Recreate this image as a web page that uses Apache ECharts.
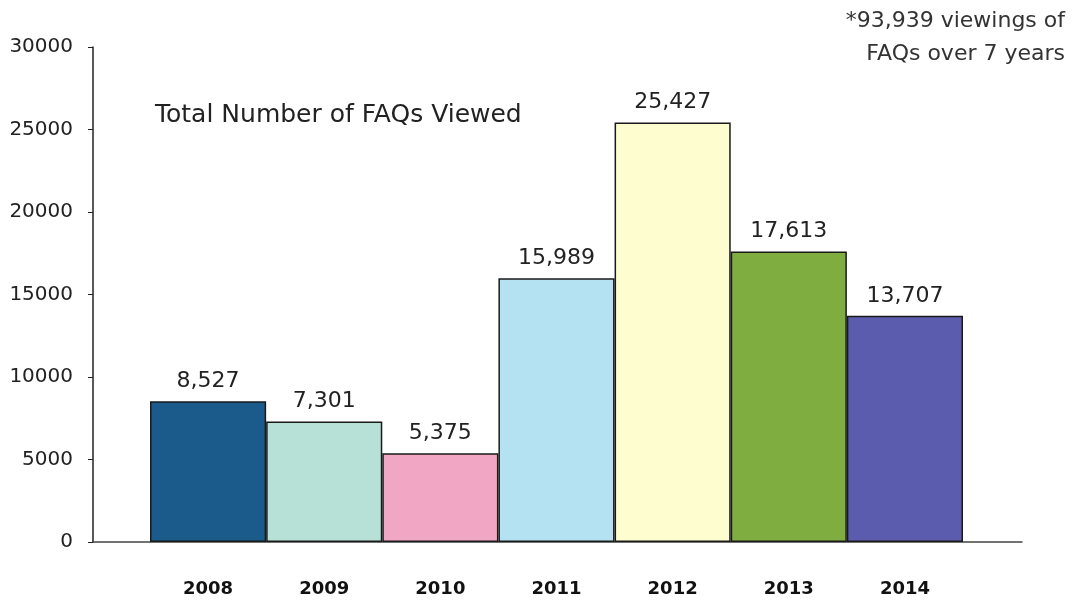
<!DOCTYPE html>
<html>
<head>
<meta charset="utf-8">
<script src="https://cdn.jsdelivr.net/npm/echarts@6/dist/echarts.min.js"></script>
<style>html,body{margin:0;padding:0;background:#fff}#c{width:1079px;height:605px}</style>
</head>
<body>
<div id="c"></div>
<script>
var years = ['2008','2009','2010','2011','2012','2013','2014'];
var views = [8527, 7301, 5375, 15989, 25427, 17613, 13707];
var barColors = ['#1b5b8b','#b7e0d7','#f1a7c3','#b4e2f3','#fdfdcf','#80ad3f','#5c5cae'];
var yTicks = [0, 5000, 10000, 15000, 20000, 25000, 30000];
var chartTitle = 'Total Number of FAQs Viewed';
var noteLines = ['*93,939 viewings of', 'FAQs over 7 years'];

var chart = echarts.init(document.getElementById('c'));
var font = 'DejaVu Sans, Liberation Sans, sans-serif';
chart.setOption({
  animation: false,
  backgroundColor: '#fff',
  graphic: [
    {type: 'text', left: 155, top: 103, style: {text: chartTitle, font: '25px DejaVu Sans', fill: '#222'}},
    {type: 'text', right: 14, top: 10, style: {text: noteLines[0], font: '22px DejaVu Sans', fill: '#333', textAlign: 'right'}},
    {type: 'text', right: 14, top: 43, style: {text: noteLines[1], font: '22px DejaVu Sans', fill: '#333', textAlign: 'right'}}
  ],
  grid: [
    {left: 93, right: 57, top: 47, bottom: 63},
    {left: 150, right: 116, top: 47, bottom: 63}
  ],
  xAxis: [
    {gridIndex: 0, type: 'value', min: 0, max: 1, axisLine: {show: true, lineStyle: {color: '#444', width: 1.5}},
     axisTick: {show: false}, axisLabel: {show: false}, splitLine: {show: false}},
    {gridIndex: 1, type: 'category', data: years, axisLine: {show: false}, axisTick: {show: false},
     axisLabel: {margin: 38, fontFamily: font, fontSize: 18, fontWeight: 'bold', color: '#111'}}
  ],
  yAxis: [
    {gridIndex: 0, type: 'value', min: yTicks[0], max: yTicks[yTicks.length-1], interval: 5000,
     axisLine: {show: true, lineStyle: {color: '#222', width: 1.5}},
     axisTick: {show: true, inside: false, length: 5, lineStyle: {color: '#222'}},
     axisLabel: {margin: 20, fontFamily: font, fontSize: 20, color: '#222', formatter: function(v){ return String(v); }},
     splitLine: {show: false}},
    {gridIndex: 1, type: 'value', min: 0, max: 30000, interval: 5000, show: false, splitLine: {show: false}}
  ],
  series: [{
    type: 'bar', xAxisIndex: 1, yAxisIndex: 1, barCategoryGap: '0%',
    data: views.map(function(v, i){ return {value: v, itemStyle: {color: barColors[i]}}; }),
    itemStyle: {borderColor: '#1a1a1a', borderWidth: 1.5},
    label: {show: true, position: 'top', distance: 9, fontFamily: font, fontSize: 22, color: '#222',
      formatter: function(p){ return p.value.toLocaleString('en-US'); }}
  }]
});
</script>
</body>
</html>
